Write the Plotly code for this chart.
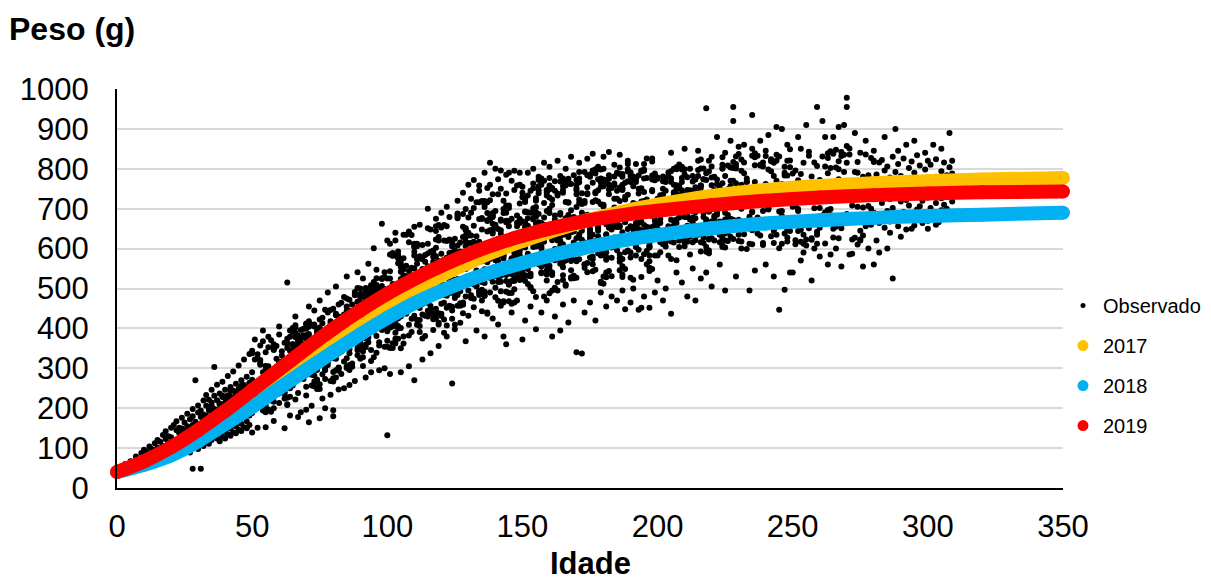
import plotly.graph_objects as go

# ---------------- fitted curves ----------------
idade_curva = [0, 10, 20, 30, 40, 50, 60, 70, 80, 90, 100, 110, 120, 130, 140,
               150, 160, 170, 180, 190, 200, 220, 240, 260, 280, 300, 320, 350]
peso_2017 = [40, 66, 100, 142, 189, 238, 287, 333, 378, 420, 461, 498, 533, 565, 594,
             619, 642, 663, 681, 697, 710, 732, 747, 757, 764, 769, 773, 777]
peso_2018 = [40, 58, 82, 117, 160, 203, 250, 296, 341, 385, 426, 463, 494, 521, 544,
             564, 582, 598, 612, 624, 634, 651, 663, 671, 677, 682, 685, 690]
peso_2019 = [40, 67, 102, 145, 193, 245, 297, 349, 399, 445, 487, 524, 557, 586, 611,
             632, 650, 665, 677, 687, 695, 709, 720, 728, 734, 738, 741, 743]

# ---------------- observed points (idade, [pesos]) estimated from the chart ----------------
obs_000_049 = [
    (0, [40, 47, 43, 52]), (1, [44, 38]), (2, [41, 49, 56]), (3, [47, 60]), (4, [45, 53, 50]),
    (5, [49, 58, 67]), (6, [55, 47, 62]), (7, [51, 66, 79]), (8, [58, 63, 74]), (9, [60, 71, 88, 55]),
    (10, [57, 69, 80, 96]), (11, [66, 74, 91]), (12, [62, 78, 85, 104]), (13, [70, 76, 97, 64]),
    (14, [73, 92, 112, 81]), (15, [68, 87, 101, 120]), (16, [80, 89, 116, 71]), (17, [75, 99, 106, 133]),
    (18, [86, 94, 123, 142, 74]), (19, [79, 97, 113, 130]), (20, [90, 104, 127, 151, 82]),
    (21, [94, 112, 120, 158, 77]), (22, [85, 103, 118, 145, 167]), (23, [98, 109, 138, 151, 83]),
    (24, [91, 115, 126, 149, 176]), (25, [104, 119, 143, 164, 95]), (26, [97, 111, 136, 155, 186]),
    (27, [107, 129, 141, 172, 89]), (28, [48, 113, 128, 158, 180, 198]), (29, [102, 125, 150, 166, 270]),
    (30, [118, 133, 160, 189, 207, 98, 138, 141]), (31, [48, 109, 131, 147, 178, 194, 114, 157]),
    (32, [122, 140, 169, 184, 219, 105, 129, 179]), (33, [114, 137, 155, 181, 206, 233, 119, 160]),
    (34, [127, 146, 174, 199, 221, 111, 162, 194]), (35, [120, 142, 161, 192, 214, 246, 135, 207]),
    (36, [132, 151, 180, 198, 231, 303, 195, 165]), (37, [124, 147, 166, 195, 220, 259, 136, 196]),
    (38, [138, 156, 186, 212, 237, 117, 211, 209]), (39, [129, 153, 172, 201, 228, 266, 192, 232]),
    (40, [143, 163, 193, 214, 246, 124, 211, 227]), (41, [135, 160, 179, 210, 232, 281, 197, 220]),
    (42, [149, 169, 199, 227, 253, 131, 243, 229]), (43, [140, 166, 186, 215, 244, 292, 226, 170]),
    (44, [155, 176, 207, 229, 261, 137, 223, 236]), (45, [146, 173, 192, 224, 249, 307, 235, 241]),
    (46, [161, 183, 213, 241, 270, 143, 256, 239]), (47, [152, 179, 199, 231, 258, 322, 194, 248]),
    (48, [167, 188, 221, 246, 279, 150, 220, 195]), (49, [158, 186, 206, 239, 264, 336, 186, 182]),
]

obs_050_099 = [
    (50, [188, 190, 344, 290, 230, 338, 271, 233]), (51, [322, 228, 240, 256, 216, 250, 225, 262]),
    (52, [243, 231, 325, 267, 223, 335, 226, 229]), (53, [209, 313, 309, 249, 357, 321, 272, 237]),
    (54, [194, 290, 214, 368, 272, 262, 257, 227]), (55, [296, 224, 192, 340, 306, 190, 240, 206]),
    (56, [237, 305, 197, 379, 353, 241, 247, 255]), (57, [191, 281, 235, 253, 227, 219, 236, 222]),
    (58, [200, 346, 352, 216, 348, 360, 229, 246]), (59, [294, 256, 356, 252, 324, 286, 292, 246]),
    (60, [213, 271, 283, 315, 385, 295, 279, 282, 237]), (61, [315, 243, 261, 343, 305, 317, 306, 257, 332]),
    (62, [282, 364, 258, 298, 224, 236, 240, 301, 298]), (63, [296, 210, 374, 226, 260, 208, 351, 255, 363]),
    (64, [395, 379, 251, 229, 319, 327, 344, 299, 250]), (65, [341, 305, 257, 401, 391, 321, 345, 361, 358]),
    (66, [402, 222, 378, 408, 304, 272, 329, 389, 352]), (67, [382, 238, 370, 352, 338, 286, 381, 330, 364]),
    (68, [311, 345, 279, 317, 335, 319, 396, 375, 365]), (69, [273, 301, 399, 383, 289, 357, 285, 358, 378]),
    (70, [284, 254, 232, 410, 412, 320, 374, 383, 399]), (71, [362, 404, 366, 418, 302, 354, 379, 305, 386]),
    (72, [305, 409, 257, 327, 323, 289, 342, 305, 284]), (73, [369, 405, 267, 319, 313, 255, 282, 410, 353]),
    (74, [296, 248, 342, 272, 268, 390, 340, 395, 334]), (75, [392, 338, 422, 248, 380, 260, 336, 402, 350]),
    (76, [313, 361, 427, 285, 347, 413, 378, 333, 345]), (77, [359, 273, 295, 447, 311, 313, 299, 354, 366]),
    (78, [308, 338, 440, 400, 364, 386, 337, 316, 320]), (79, [334, 418, 446, 380, 268, 382, 350, 411, 342]),
    (80, [267, 291, 325, 371, 275, 361, 449, 383, 365]), (81, [433, 277, 401, 373, 295, 437, 324, 403, 391]),
    (82, [300, 410, 374, 460, 302, 294, 430, 428, 338]), (83, [396, 464, 342, 286, 420, 416, 421, 387, 357]),
    (84, [351, 393, 397, 401, 317, 385, 404, 435, 479]), (85, [301, 325, 455, 305, 429, 445, 475, 422, 382]),
    (86, [472, 338, 308, 444, 348, 296, 401, 387, 372]), (87, [312, 460, 386, 304, 378, 414, 443, 433, 385]),
    (88, [367, 491, 417, 441, 483, 427, 424, 432, 487]), (89, [367, 333, 467, 447, 351, 345, 466, 439, 501]),
    (90, [478, 324, 354, 486, 462, 466, 500, 366, 360]), (91, [306, 342, 402, 328, 386, 422, 385, 403, 486]),
    (92, [359, 413, 423, 501, 493, 353, 376, 375, 474]), (93, [479, 435, 439, 377, 477, 365, 442, 482, 402]),
    (94, [504, 318, 490, 396, 508, 346, 452, 497, 490]), (95, [504, 516, 392, 420, 328, 482, 484, 512, 490]),
    (96, [339, 469, 509, 411, 505, 381, 526, 464, 497]), (97, [481, 357, 405, 449, 497, 365, 460, 442, 413]),
    (98, [506, 524, 452, 488, 396, 492, 404, 526, 430]), (99, [438, 416, 354, 472, 466, 528, 499, 541, 442]),
]

obs_100_149 = [
    (100, [393, 474, 354, 525, 369, 414, 400, 440, 466, 410]), (101, [402, 351, 525, 543, 612, 585, 468, 404, 448, 402]),
    (102, [474, 363, 501, 351, 582, 405, 511, 407, 589, 583]), (103, [389, 413, 443, 620, 362, 374, 499, 583, 457, 429]),
    (104, [593, 584, 374, 563, 491, 425, 580, 576, 400, 406]), (105, [467, 350, 554, 401, 458, 500, 542, 564, 430, 524]),
    (106, [380, 362, 512, 635, 479, 533, 576, 554, 548, 500]), (107, [437, 494, 635, 497, 440, 464, 521, 519, 557, 531]),
    (108, [409, 544, 478, 616, 382, 643, 531, 491, 495, 517]), (109, [523, 550, 634, 457, 493, 391, 424, 552, 472, 470]),
    (110, [610, 583, 550, 604, 457, 592, 606, 612, 504, 432]), (111, [562, 610, 409, 517, 574, 421, 514, 612, 606, 464]),
    (112, [421, 391, 406, 532, 508, 536, 575, 581, 451, 529]), (113, [573, 435, 504, 375, 510, 549, 523, 461, 609, 495]),
    (114, [381, 531, 465, 567, 513, 432, 496, 520, 528, 584]), (115, [471, 651, 552, 588, 556, 444, 612, 472, 464, 430]),
    (116, [648, 498, 456, 486, 447, 549, 488, 538, 592, 440]), (117, [588, 396, 558, 567, 423, 552, 589, 579, 595, 433]),
    (118, [623, 602, 644, 425, 440, 656, 435, 449, 525, 581]), (119, [410, 569, 629, 659, 545, 414, 620, 500, 566, 438]),
    (120, [437, 431, 494, 515, 587, 653, 544, 462, 506, 502]), (121, [464, 659, 497, 389, 422, 488, 572, 620, 506, 484]),
    (122, [407, 482, 554, 656, 452, 530, 619, 575, 543, 577]), (123, [589, 457, 508, 517, 532, 679, 489, 553, 577, 623]),
    (124, [454, 520, 550, 445, 424, 526, 490, 614, 606, 590]), (125, [490, 571, 481, 409, 595, 625, 494, 590, 544, 476]),
    (126, [688, 676, 684, 493, 679, 457, 484, 572, 524, 608]), (127, [589, 457, 520, 463, 502, 593, 577, 571, 615, 493]),
    (128, [459, 687, 438, 561, 462, 570, 465, 655, 629, 563]), (129, [651, 633, 549, 480, 648, 699, 606, 618, 630, 646]),
    (130, [495, 561, 582, 633, 567, 678, 640, 554, 614, 562]), (131, [588, 573, 633, 561, 690, 483, 532, 614, 476, 578]),
    (132, [657, 534, 474, 510, 453, 702, 587, 567, 617, 599]), (133, [545, 575, 509, 590, 581, 716, 505, 537, 631, 527]),
    (134, [716, 494, 674, 617, 611, 527, 594, 484, 492, 490]), (135, [677, 497, 719, 443, 674, 572, 568, 594, 516, 648]),
    (136, [704, 482, 719, 710, 548, 602, 514, 482, 526, 492]), (137, [437, 689, 440, 671, 716, 566, 541, 569, 643, 669]),
    (138, [721, 532, 646, 490, 574, 616, 527, 671, 677, 545]), (139, [685, 517, 679, 736, 643, 689, 682, 638, 662, 648]),
    (140, [532, 694, 598, 571, 478, 655, 576, 502, 542, 660]), (141, [625, 736, 529, 568, 469, 649, 516, 580, 564, 552]),
    (142, [493, 517, 532, 457, 646, 670, 673, 637, 585, 535]), (143, [720, 699, 582, 468, 627, 465, 575, 619, 689, 583]),
    (144, [708, 519, 492, 534, 558, 738, 670, 666, 602, 690]), (145, [468, 510, 702, 708, 489, 669, 630, 656, 614, 510]),
    (146, [621, 519, 603, 462, 675, 489, 576, 536, 570, 572]), (147, [579, 636, 498, 465, 627, 747, 635, 525, 519, 589]),
    (148, [602, 656, 530, 611, 758, 599, 539, 579, 665, 683]), (149, [584, 557, 521, 674, 599, 713, 594, 664, 570, 630]),
]

obs_150_199 = [
    (150, [524, 740, 641, 668, 755, 569, 535, 549, 729, 542]), (151, [603, 519, 717, 693, 666, 723, 656, 649, 533, 692]),
    (152, [568, 691, 676, 733, 511, 640, 532, 587, 657, 549]), (153, [690, 537, 504, 501, 531, 636, 560, 568, 635, 745]),
    (154, [613, 649, 673, 562, 604, 493, 701, 677, 751, 763]), (155, [605, 680, 479, 638, 578, 662, 687, 692, 726, 704]),
    (156, [615, 561, 570, 756, 666, 687, 746, 575, 739, 772]), (157, [664, 538, 760, 601, 541, 589, 555, 605, 776, 656]),
    (158, [561, 642, 714, 480, 678, 660, 617, 770, 655, 641]), (159, [520, 646, 745, 694, 733, 535, 740, 546, 558, 747]),
    (160, [557, 752, 488, 689, 728, 758, 638, 748, 549, 777]), (161, [639, 495, 540, 534, 588, 621, 752, 634, 709, 723]),
    (162, [673, 745, 571, 769, 574, 502, 633, 683, 599, 585]), (163, [516, 579, 495, 591, 636, 738, 620, 733, 626, 640]),
    (164, [571, 607, 685, 562, 580, 631, 689, 768, 782, 619]), (165, [611, 776, 533, 635, 641, 521, 565, 747, 757, 553]),
    (166, [507, 636, 588, 639, 570, 510, 758, 717, 676, 767]), (167, [679, 715, 775, 770, 763, 595, 629, 716, 684, 634]),
    (168, [762, 528, 696, 525, 603, 546, 581, 576, 641, 569]), (169, [610, 679, 526, 784, 532, 643, 615, 649, 599, 611]),
    (170, [527, 668, 746, 704, 626, 572, 772, 568, 736, 751]), (171, [714, 792, 573, 636, 672, 723, 629, 601, 776, 766]),
    (172, [655, 739, 670, 667, 712, 622, 645, 690, 654, 590]), (173, [792, 561, 714, 615, 552, 612, 592, 611, 560, 719]),
    (174, [541, 784, 685, 604, 754, 736, 660, 739, 609, 564]), (175, [617, 596, 644, 578, 638, 599, 649, 630, 786, 625]),
    (176, [615, 717, 678, 561, 765, 543, 580, 635, 573, 796]), (177, [739, 685, 619, 799, 721, 547, 797, 670, 788, 742]),
    (178, [654, 588, 774, 645, 651, 666, 799, 746, 718, 631]), (179, [592, 514, 766, 688, 517, 583, 776, 798, 755, 711]),
    (180, [710, 512, 800, 773, 584, 530, 679, 765, 756, 705]), (181, [636, 591, 612, 579, 540, 528, 661, 572, 634, 771]),
    (182, [736, 775, 544, 760, 748, 676, 683, 693, 784, 652]), (183, [603, 756, 606, 690, 648, 531, 752, 577, 661, 695]),
    (184, [628, 655, 703, 781, 676, 661, 763, 759, 725, 662]), (185, [596, 608, 725, 668, 671, 659, 618, 745, 654, 682]),
    (186, [753, 576, 657, 567, 546, 654, 719, 585, 803, 787]), (187, [529, 760, 556, 574, 535, 787, 747, 641, 751, 780]),
    (188, [765, 591, 549, 666, 681, 723, 701, 730, 612, 667]), (189, [649, 595, 793, 769, 694, 799, 630, 735, 687, 812]),
    (190, [527, 767, 791, 656, 590, 782, 679, 578, 628, 624]), (191, [522, 756, 714, 687, 636, 648, 709, 781, 615, 704]),
    (192, [712, 583, 664, 691, 658, 604, 767, 686, 606, 774]), (193, [621, 783, 750, 636, 705, 597, 649, 738, 664, 702]),
    (194, [574, 529, 796, 793, 646, 718, 751, 667, 629, 621]), (195, [776, 719, 812, 620, 644, 659, 704, 586, 742, 798]),
    (196, [594, 723, 777, 561, 624, 642, 655, 691, 621, 700]), (197, [544, 607, 552, 652, 583, 568, 605, 696, 603, 615]),
    (198, [744, 747, 654, 783, 549, 708, 773, 622, 682, 826]), (199, [637, 682, 784, 583, 670, 715, 771, 659, 651, 788]),
]

obs_200_249 = [
    (200, [778, 775, 583, 650, 725, 628, 648, 662]), (201, [591, 616, 734, 719, 699, 730, 664, 674]),
    (202, [750, 707, 720, 735, 617, 781, 611, 769]), (203, [690, 745, 605, 767, 637, 617, 723, 777]),
    (204, [643, 718, 583, 628, 791, 656, 650, 782]), (205, [672, 767, 574, 694, 707, 794, 618, 776]),
    (206, [670, 760, 800, 615, 658, 733, 741, 637]), (207, [804, 749, 664, 799, 571, 759, 673, 737]),
    (208, [604, 752, 811, 698, 756, 702, 620, 678]), (209, [735, 767, 777, 805, 622, 746, 736, 798]),
    (210, [616, 786, 621, 606, 693, 679, 799, 623]), (211, [742, 617, 747, 657, 704, 679, 689, 779]),
    (212, [800, 728, 713, 673, 585, 734, 630, 746]), (213, [698, 678, 768, 745, 643, 666, 782, 616]),
    (214, [691, 676, 724, 621, 754, 773, 721, 693]), (215, [705, 797, 782, 712, 820, 653, 741, 635]),
    (216, [616, 801, 758, 823, 593, 758, 752, 714]), (217, [614, 774, 801, 689, 679, 628, 774, 736]),
    (218, [667, 712, 772, 592, 604, 673, 789, 651]), (219, [693, 595, 820, 625, 588, 793, 623, 693]),
    (220, [719, 759, 626, 806, 641, 668, 778, 736]), (221, [665, 682, 747, 720, 677, 710, 780, 620]),
    (222, [761, 713, 691, 711, 773, 685, 665, 653]), (223, [738, 616, 636, 753, 668, 703, 639, 635]),
    (224, [764, 802, 829, 607, 604, 800, 626, 810]), (225, [720, 673, 620, 668, 603, 690, 782, 638]),
    (226, [749, 684, 745, 619, 808, 641, 659, 657]), (227, [722, 727, 770, 675, 630, 745, 803, 757]),
    (228, [802, 737, 745, 817, 770, 624, 724, 672]), (229, [831, 713, 801, 806, 653, 728, 764, 812]),
    (230, [657, 724, 619, 837, 672, 733, 715, 635]), (231, [823, 760, 700, 618, 795]),
    (232, [719, 636, 709, 816, 789]), (233, [599, 769, 766, 776, 739]), (234, [612, 662, 707, 680, 750]),
    (235, [646, 611, 693, 833, 691]), (236, [839, 809, 767, 709, 829]), (237, [723, 638, 833, 678, 713]),
    (238, [810, 633, 808, 670, 715]), (239, [609, 806, 816, 694, 614]), (240, [762, 832, 665, 670, 755]),
    (241, [703, 698, 700, 798, 713]), (242, [824, 794, 631, 819, 664]), (243, [644, 614, 782, 815, 649]),
    (244, [770, 835, 820, 635, 727]), (245, [831, 738, 693, 756, 601]), (246, [694, 664, 612, 682, 762]),
    (247, [805, 638, 663, 783, 790]), (248, [628, 820, 783, 618, 648]), (249, [644, 849, 804, 729, 821]),
]

obs_250_309 = [
    (250, [750, 705, 788, 720]), (251, [708, 611, 621, 796]), (252, [644, 699, 694, 771]), (253, [647, 787, 617, 850]),
    (254, [635, 752, 612, 815]), (255, [623, 608, 763, 728]), (256, [843, 651, 833, 671]), (257, [622, 744, 626, 781]),
    (258, [661, 816, 756, 701]), (259, [642, 807, 635, 612]), (260, [702, 657, 772, 652]), (261, [726, 753, 831, 683]),
    (262, [691, 613, 806, 738]), (263, [839, 697, 827, 789]), (264, [802, 844, 699, 684]), (265, [628, 650, 745, 838]),
    (266, [723, 848, 655, 803]), (267, [819, 799, 774, 626]), (268, [842, 832, 651, 659]), (269, [835, 677, 737, 792]),
    (270, [760, 857, 687, 815]), (271, [768, 733, 836, 851]), (272, [726, 623, 753, 708]), (273, [792, 744, 627, 742]),
    (274, [790, 770, 817, 705]), (275, [760, 645, 840, 623]), (276, [725, 703, 633, 780]), (277, [751, 836, 656, 679]),
    (278, [707, 662, 784, 671]), (279, [700, 660, 827, 737]), (280, [690, 817, 820, 845]),
    (281, [680, 786, 730]), (282, [816, 664, 748]), (283, [714, 770, 822]), (284, [652, 738, 796]),
    (285, [758, 694, 806]), (286, [668, 724, 778]), (287, [830, 702, 754]), (288, [686, 792, 736]),
    (289, [764, 656, 812]), (290, [718, 782, 676]), (291, [750, 826, 692]), (292, [648, 774, 722]),
    (293, [802, 708, 760]), (294, [674, 744, 818]), (295, [732, 790, 658]), (296, [776, 698, 834]),
    (297, [706, 808, 742]), (298, [664, 766, 720]), (299, [798, 688, 752]), (300, [728, 820, 670]),
    (301, [772, 702, 810]), (302, [682, 756, 734]), (303, [824, 714, 780]), (304, [740, 666, 768]),
    (305, [696, 794, 726]), (306, [762, 710, 816]), (307, [678, 748, 784]), (308, [804, 730, 692]),
    (309, [754, 718, 788]),
]

# isolated points (outliers / sparse fringe)
obs_dispersos = [
    (50, 139), (51, 372), (52, 151), (54, 395), (55, 152), (57, 370), (58, 168), (60, 405), (62, 150), (63, 515),
    (64, 182), (66, 430), (67, 178), (68, 190), (70, 196), (71, 455), (72, 206), (73, 445), (75, 470), (76, 224),
    (77, 200), (78, 490), (79, 234), (80, 180), (81, 505), (82, 247), (84, 250), (85, 530), (86, 258), (88, 268),
    (89, 541), (91, 525), (92, 277), (93, 562), (94, 290), (95, 601), (96, 547), (97, 295), (98, 662), (99, 300),
    (100, 132), (100, 620), (80, 195), (75, 175), (71, 165),
    (101, 286), (103, 640), (105, 290), (108, 305), (110, 270), (110, 655), (112, 660), (113, 322), (115, 700),
    (116, 338), (118, 675), (119, 356), (120, 690), (122, 705), (122, 380), (124, 262), (125, 398), (126, 720),
    (127, 414), (128, 740), (129, 368), (130, 760), (130, 432), (131, 725), (132, 772), (133, 395), (134, 758),
    (135, 470), (136, 790), (137, 752), (138, 815), (139, 425), (140, 800), (141, 774), (142, 796), (143, 380),
    (144, 785), (145, 790), (146, 440), (147, 795), (148, 470), (149, 790), (134, 745), (138, 760), (142, 750),
    (146, 770), (149, 760), (144, 360), (141, 410), (136, 380),
    (150, 372), (151, 420), (152, 790), (153, 455), (154, 800), (155, 398), (156, 780), (157, 440), (158, 815),
    (159, 470), (160, 805), (161, 380), (162, 430), (163, 820), (164, 395), (165, 460), (166, 800), (167, 415),
    (168, 830), (169, 470), (170, 340), (171, 815), (172, 337), (173, 440), (174, 825), (175, 465), (176, 838),
    (177, 420), (178, 805), (179, 490), (180, 830), (181, 455), (182, 842), (183, 480), (184, 810), (185, 470),
    (186, 835), (187, 495), (188, 448), (189, 820), (190, 465), (191, 500), (192, 812), (193, 447), (194, 452),
    (195, 480), (196, 826), (197, 452), (198, 818), (199, 490), (155, 720), (160, 700), (165, 740), (170, 760),
    (175, 780), (180, 760), (185, 790), (190, 770), (195, 795),
    (200, 520), (202, 470), (203, 500), (205, 437), (207, 540), (209, 515), (211, 480), (213, 550), (214, 470),
    (216, 525), (218, 952), (218, 540), (220, 505), (222, 880), (223, 560), (225, 495), (227, 870), (228, 955),
    (228, 920), (229, 530), (231, 600), (232, 860), (234, 495), (235, 935), (236, 545), (238, 870), (240, 560),
    (241, 885), (243, 530), (245, 447), (246, 900), (247, 497), (248, 860), (249, 540), (205, 840), (210, 850),
    (215, 845), (220, 830), (225, 840), (230, 855), (235, 850), (240, 845), (244, 905),
    (250, 540), (252, 880), (253, 570), (255, 910), (257, 520), (259, 955), (260, 580), (261, 920), (263, 560),
    (265, 880), (266, 600), (267, 905), (268, 555), (270, 978), (270, 955), (271, 585), (272, 587), (273, 890),
    (275, 620), (276, 555), (277, 870), (278, 600), (280, 560), (254, 590), (258, 600), (262, 880), (264, 585),
    (269, 910), (274, 610),
    (281, 620), (284, 880), (286, 640), (287, 525), (288, 900), (289, 845), (290, 630), (292, 860), (294, 650),
    (295, 870), (297, 690), (299, 840), (300, 650), (302, 860), (303, 660), (305, 850), (307, 700), (308, 890),
    (309, 820), (282, 590), (285, 600),
]

obs_x, obs_y = [], []
for band in (obs_000_049, obs_050_099, obs_100_149, obs_150_199, obs_200_249, obs_250_309):
    for idade, pesos in band:
        for p in pesos:
            obs_x.append(idade)
            obs_y.append(p)
for idade, p in obs_dispersos:
    obs_x.append(idade)
    obs_y.append(p)

FONT = "Arial, Liberation Sans, sans-serif"
COR_2017 = "#FFC000"
COR_2018 = "#00B0F0"
COR_2019 = "#FF0000"
LARG = 14

fig = go.Figure()
fig.add_trace(go.Scatter(x=obs_x, y=obs_y, mode="markers", showlegend=False,
                         marker=dict(color="black", size=6, line=dict(width=0)), hoverinfo="skip"))
for nome, pesos, cor in (("2017", peso_2017, COR_2017), ("2018", peso_2018, COR_2018), ("2019", peso_2019, COR_2019)):
    fig.add_trace(go.Scatter(x=idade_curva, y=pesos, mode="lines+markers", showlegend=False,
                             line=dict(color=cor, width=LARG, shape="spline", smoothing=0.8),
                             marker=dict(color=cor, size=LARG, line=dict(width=0)),
                             cliponaxis=False, hoverinfo="skip"))

# legend entries (symbols only)
for nome, cor, tam in (("Observado", "black", 5), ("2017", COR_2017, 11), ("2018", COR_2018, 11), ("2019", COR_2019, 11)):
    fig.add_trace(go.Scatter(x=[None], y=[None], mode="markers", name=nome, legendgroup=nome,
                             marker=dict(color=cor, size=tam, line=dict(width=0))))

# the page body adds an 8 px offset, so the figure is 8 px smaller than the window
fig.update_layout(
    width=1203, height=574,
    margin=dict(l=109, r=148, t=81, b=94, autoexpand=False),
    paper_bgcolor="white", plot_bgcolor="white",
    font=dict(family=FONT, color="black"),
    showlegend=True,
    legend=dict(x=1.0, xanchor="left", y=0.506, yanchor="top", traceorder="grouped",
                tracegroupgap=11, font=dict(size=20, family=FONT, color="black"),
                bgcolor="rgba(0,0,0,0)", borderwidth=0),
    xaxis=dict(range=[0, 350], tickvals=[0, 50, 100, 150, 200, 250, 300, 350],
               showgrid=False, zeroline=False, showline=True, linecolor="black", linewidth=2,
               ticks="", tickfont=dict(size=31, family=FONT, color="black"), ticklabelstandoff=10),
    yaxis=dict(range=[0, 1000], tickvals=list(range(0, 1001, 100)),
               showgrid=True, gridcolor="#D9D9D9", gridwidth=1.5, zeroline=False,
               showline=True, linecolor="black", linewidth=2,
               ticks="", tickfont=dict(size=31, family=FONT, color="black"), ticklabelstandoff=20),
    annotations=[
        dict(text="<b>Peso (g)</b>", xref="paper", yref="paper", x=-0.1163, y=1.2005,
             xanchor="left", yanchor="top", showarrow=False, font=dict(size=32, family=FONT, color="black")),
        dict(text="<b>Idade</b>", xref="paper", yref="paper", x=0.5, y=-0.14,
             xanchor="center", yanchor="top", showarrow=False, font=dict(size=31, family=FONT, color="black")),
    ],
)

fig.write_html("out.html")
